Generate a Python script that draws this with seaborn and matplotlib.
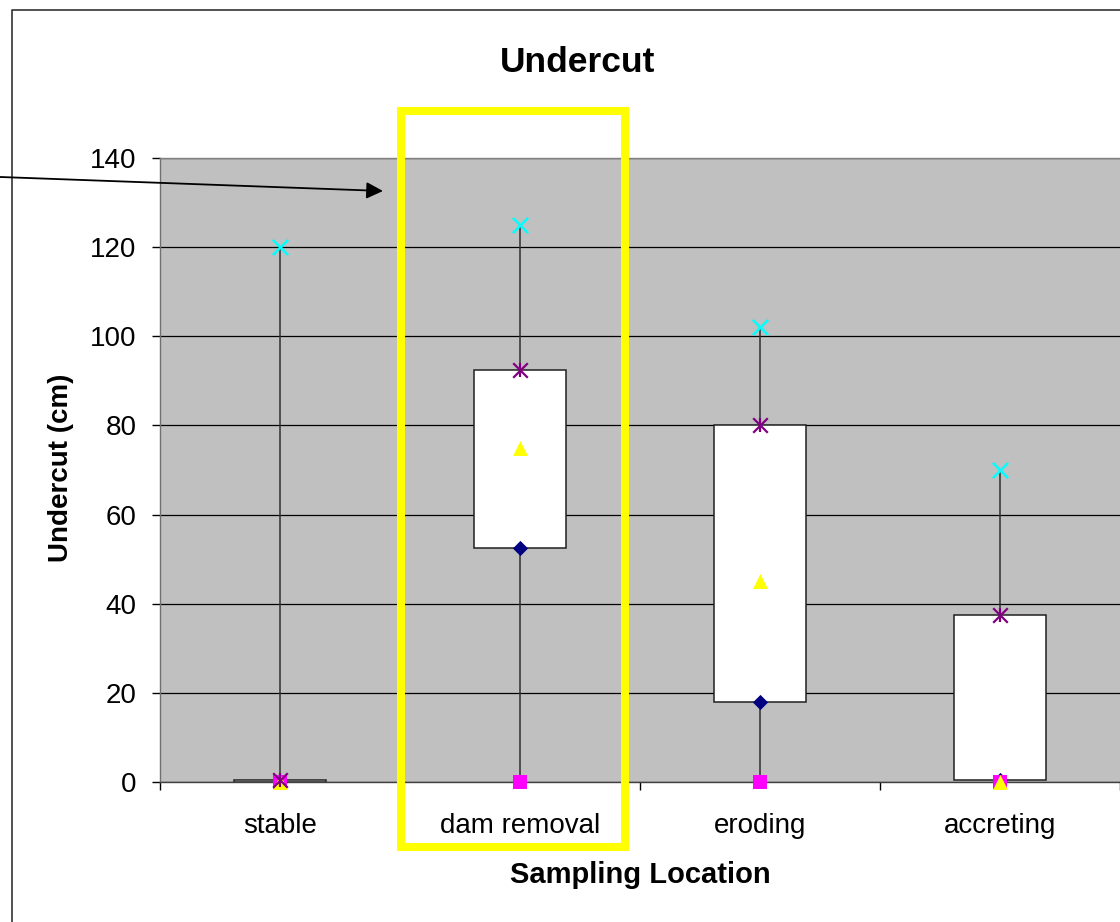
import numpy as np
import matplotlib
matplotlib.use("Agg")
import matplotlib.pyplot as plt
from matplotlib.patches import Rectangle, FancyArrowPatch
from matplotlib.lines import Line2D
import seaborn as sns

# Summary statistics of undercut (cm) per sampling location
locations = ["stable", "dam removal", "eroding", "accreting"]
max_vals = [120, 125, 102, 70]
q3_vals = [0.5, 92.5, 80, 37.5]
mean_vals = [0, 75, 45, 0]
q1_vals = [0, 52.5, 18, 0.5]
min_vals = [0, 0, 0, 0]
y_ticks = [0, 20, 40, 60, 80, 100, 120, 140]

sns.set_style("white")
plt.rcParams["font.family"] = ["Liberation Sans", "DejaVu Sans"]
plt.rcParams["text.color"] = "black"

W, H = 1120, 922
fig = plt.figure(figsize=(W / 100, H / 100), dpi=100)
fig.patch.set_facecolor("white")


def fx(px):
    return px / W


def fy(py):
    return 1 - py / H


ax = fig.add_axes([fx(160), fy(782), fx(1120) - fx(160), fy(158) - fy(782)])
ax.set_facecolor("#C0C0C0")

pos = np.arange(len(locations))

# whisker from minimum to maximum, box from Q1 to Q3
ax.vlines(pos, min_vals, max_vals, color="#303030", lw=1.1, zorder=1.5)
ax.bar(pos, np.subtract(q3_vals, q1_vals), bottom=q1_vals, width=0.38,
       color="white", edgecolor="#202020", linewidth=1.1, zorder=2)

# statistic markers
marker_specs = [
    (q1_vals, "D", "#000080", 60, 0),
    (min_vals, "s", "#FF00FF", 90, 0),
    (mean_vals, "^", "#FFFF00", 115, 0),
    (q3_vals, "x", "#800080", 110, 1.6),
    (q3_vals, "|", "#800080", 110, 1.6),
    (max_vals, "x", "#00FFFF", 121, 1.8),
]
for vals, mk, col, size, lw in marker_specs:
    sns.scatterplot(x=pos, y=vals, marker=mk, color=col, s=size, linewidth=lw,
                    ax=ax, zorder=4, legend=False, clip_on=False)

ax.set_xlim(-0.5, 3.5)
ax.set_ylim(0, 140)
ax.set_yticks(y_ticks)
ax.set_yticklabels([str(v) for v in y_ticks])
ax.tick_params(axis="y", which="major", length=6, width=1, color="black",
               direction="out", pad=11, labelsize=20, left=True, labelcolor="black")
ax.set_xticks(np.arange(-0.5, 4.0, 1.0))
ax.set_xticklabels([])
ax.set_xticks(pos, minor=True)
ax.set_xticklabels(locations, minor=True)
ax.tick_params(axis="x", which="major", length=6, width=1, color="black",
               direction="out", bottom=True)
ax.tick_params(axis="x", which="minor", length=0, pad=22, labelsize=20,
               bottom=True, labelcolor="black")
ax.set_xlabel("")
ax.set_ylabel("")
ax.yaxis.grid(True, color="black", lw=0.9)
ax.xaxis.grid(False)
ax.set_axisbelow(True)
ax.spines["right"].set_visible(False)
ax.spines["top"].set_color("#808080")
ax.spines["left"].set_color("#707070")
ax.spines["bottom"].set_color("#404040")
for s in ["top", "left", "bottom"]:
    ax.spines[s].set_linewidth(1.0)

# titles
fig.text(fx(577.5), fy(72), "Undercut", ha="center", va="baseline",
         fontsize=25.5, fontweight="bold", color="black")
fig.text(fx(640), fy(883), "Sampling Location", ha="center", va="baseline",
         fontsize=21, fontweight="bold", color="black")
fig.text(fx(61), fy(468), "Undercut (cm)", rotation=90, ha="center", va="center",
         fontsize=20, fontweight="bold", color="black")

# outer chart border
fig.add_artist(Line2D([fx(12), fx(12), fx(1130)], [fy(930), fy(10), fy(10)],
                      transform=fig.transFigure, color="#333333", lw=1.2))

# highlight frame around dam removal
fig.add_artist(Rectangle((fx(401), fy(847)), fx(625) - fx(401), fy(111) - fy(847),
                         transform=fig.transFigure, fill=False,
                         edgecolor="#FFFF00", lw=5.8, joinstyle="miter", zorder=10))

# pointer arrow
fig.add_artist(FancyArrowPatch(posA=(fx(-5), fy(176.8)), posB=(fx(383), fy(191)),
                               transform=fig.transFigure,
                               arrowstyle="-|>,head_length=1.0,head_width=0.5",
                               mutation_scale=10, color="black", lw=1.3,
                               shrinkA=0, shrinkB=0, zorder=11))

fig.savefig("out.png", dpi=100)
